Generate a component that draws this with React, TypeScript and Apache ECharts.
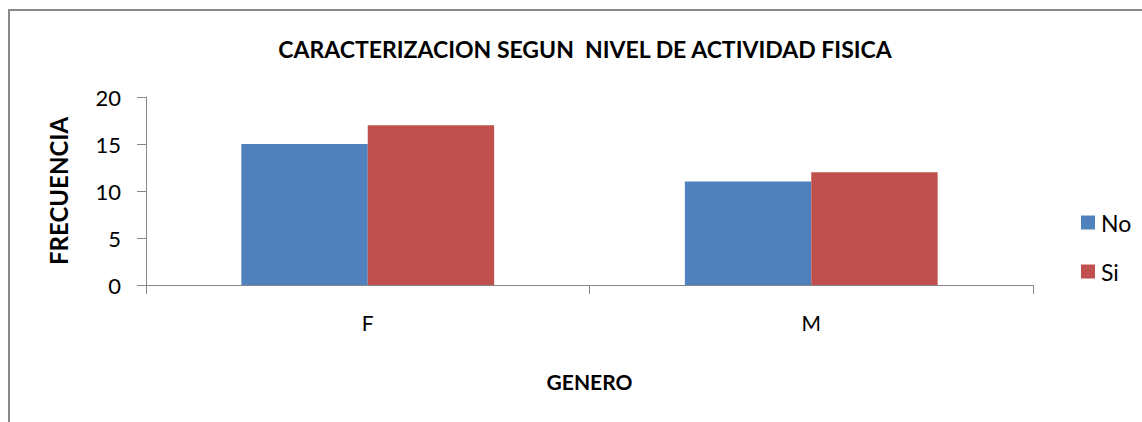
import React, { useEffect, useRef } from "react";
import * as echarts from "echarts";

const categories = ["F", "M"];
const seriesNames = ["No", "Si"];
const noValues = [15, 11];
const siValues = [17, 12];
const yTicks = [0, 5, 10, 15, 20];

const FONT = "Lato, 'Open Sans', sans-serif";

export default function App() {
  const ref = useRef<HTMLDivElement>(null);
  useEffect(() => {
    if (!ref.current) return;
    const chart = echarts.init(ref.current, null, { renderer: "svg" });
    chart.setOption({
      animation: false,
      backgroundColor: "#ffffff",
      title: {
        text: "CARACTERIZACION SEGUN  NIVEL DE ACTIVIDAD FISICA",
        left: 580,
        textAlign: "center",
        top: 32,
        textStyle: { fontFamily: FONT, fontSize: 23, fontWeight: "bold", color: "#000" },
      },
      graphic: [
        {
          type: "rect",
          shape: { x: 9, y: 10, width: 1200, height: 500 },
          style: { fill: "none", stroke: "#888888", lineWidth: 2 },
          silent: true,
        },
      ],
      legend: {
        orient: "vertical",
        left: 1076,
        top: 206,
        itemWidth: 14,
        itemHeight: 14,
        itemGap: 26,
        icon: "rect",
        data: seriesNames,
        textStyle: { fontFamily: FONT, fontSize: 23, color: "#000", padding: [0, 0, 0, 1] },
      },
      grid: { left: 146, right: 109, top: 97, bottom: 137, containLabel: false },
      xAxis: {
        type: "category",
        data: categories,
        name: "GENERO",
        nameLocation: "middle",
        nameGap: 86,
        nameTextStyle: { fontFamily: FONT, fontSize: 21, fontWeight: "bold", color: "#000" },
        axisLine: { lineStyle: { color: "#868686", width: 1 } },
        axisTick: { show: true, length: 9, lineStyle: { color: "#868686" } },
        axisLabel: { fontFamily: FONT, fontSize: 21, color: "#000", margin: 27 },
      },
      yAxis: {
        type: "value",
        min: 0,
        max: 20,
        interval: 5,
        name: "FRECUENCIA",
        nameLocation: "middle",
        nameGap: 76,
        nameRotate: 90,
        nameTextStyle: { fontFamily: FONT, fontSize: 24, fontWeight: "bold", color: "#000" },
        axisLine: { show: true, lineStyle: { color: "#868686", width: 1 } },
        axisTick: { show: true, length: 9, lineStyle: { color: "#868686" } },
        splitLine: { show: false },
        axisLabel: {
          fontFamily: FONT,
          fontSize: 22,
          color: "#000",
          margin: 25,
          formatter: (v: number) => (yTicks.includes(v) ? String(v) : ""),
        },
      },
      series: [
        {
          name: seriesNames[0],
          type: "bar",
          data: noValues,
          itemStyle: { color: "#4F81BD" },
          barGap: "0%",
          barCategoryGap: "43%",
        },
        {
          name: seriesNames[1],
          type: "bar",
          data: siValues,
          itemStyle: { color: "#C0504D" },
          barGap: "0%",
          barCategoryGap: "43%",
        },
      ],
    });
    return () => chart.dispose();
  }, []);
  return (
    <div
      ref={ref}
      style={{ position: "fixed", left: 0, top: 0, width: 1142, height: 422 }}
    />
  );
}
